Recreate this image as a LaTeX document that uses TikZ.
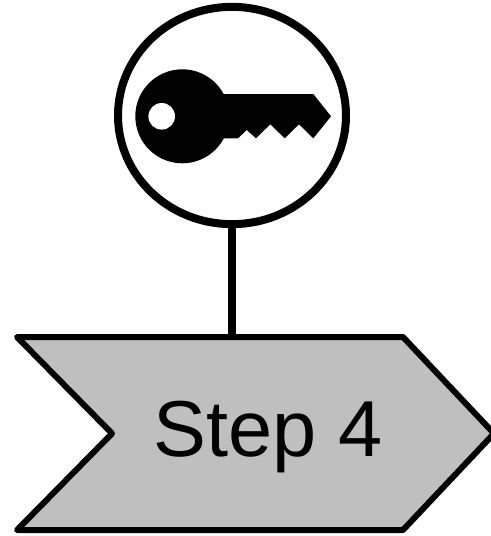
\documentclass[tikz,border=0pt]{standalone}
\usepackage{fontspec}
\setmainfont{Liberation Sans}
\usetikzlibrary{positioning, shapes.geometric}

\begin{document}
\begin{tikzpicture}[
  x=0.75pt, y=-0.75pt,
  badge/.style={ellipse, draw=black, fill=white, line width=6pt, inner sep=0pt,
                minimum width=171pt, minimum height=163pt},
  chevron/.style={draw=black, fill=black!25, line width=4.5pt, line join=round},
  stem/.style={draw=black, line width=6pt},
  keyshape/.style={fill=black, draw=none},
  steptext/.style={font=\fontsize{59.5}{61}\selectfont, inner sep=0pt},
]
\useasboundingbox (0,0) rectangle (491,536);

%% ---- Step arrow ----
\draw[chevron] (17,337) -- (403,337) -- (494,433.5) -- (403,530) -- (17,530)
               -- (112,433.5) -- cycle;
\coordinate (chevtop) at (232,337);
\node[steptext] (steplabel) at (268.5,437) {Step 4};

%% ---- Key badge ----
\node[badge] (badge) at (232,115.5) {};
\draw[stem] (badge.south) -- (chevtop);

%% key
\fill[keyshape] (182.3,116.3) ellipse [x radius=47, y radius=47];
\fill[keyshape] (215,94) -- (313.3,94) -- (331,116.3) -- (313.3,138.3) -- (299,124.3)
                -- (284.7,138.3) -- (270.3,124.3) -- (256,138.3) -- (246.7,130)
                -- (238,138.3) -- (215,138.3) -- cycle;
\fill[white] (161.7,116.3) circle [radius=13.3];

\end{tikzpicture}
\end{document}
